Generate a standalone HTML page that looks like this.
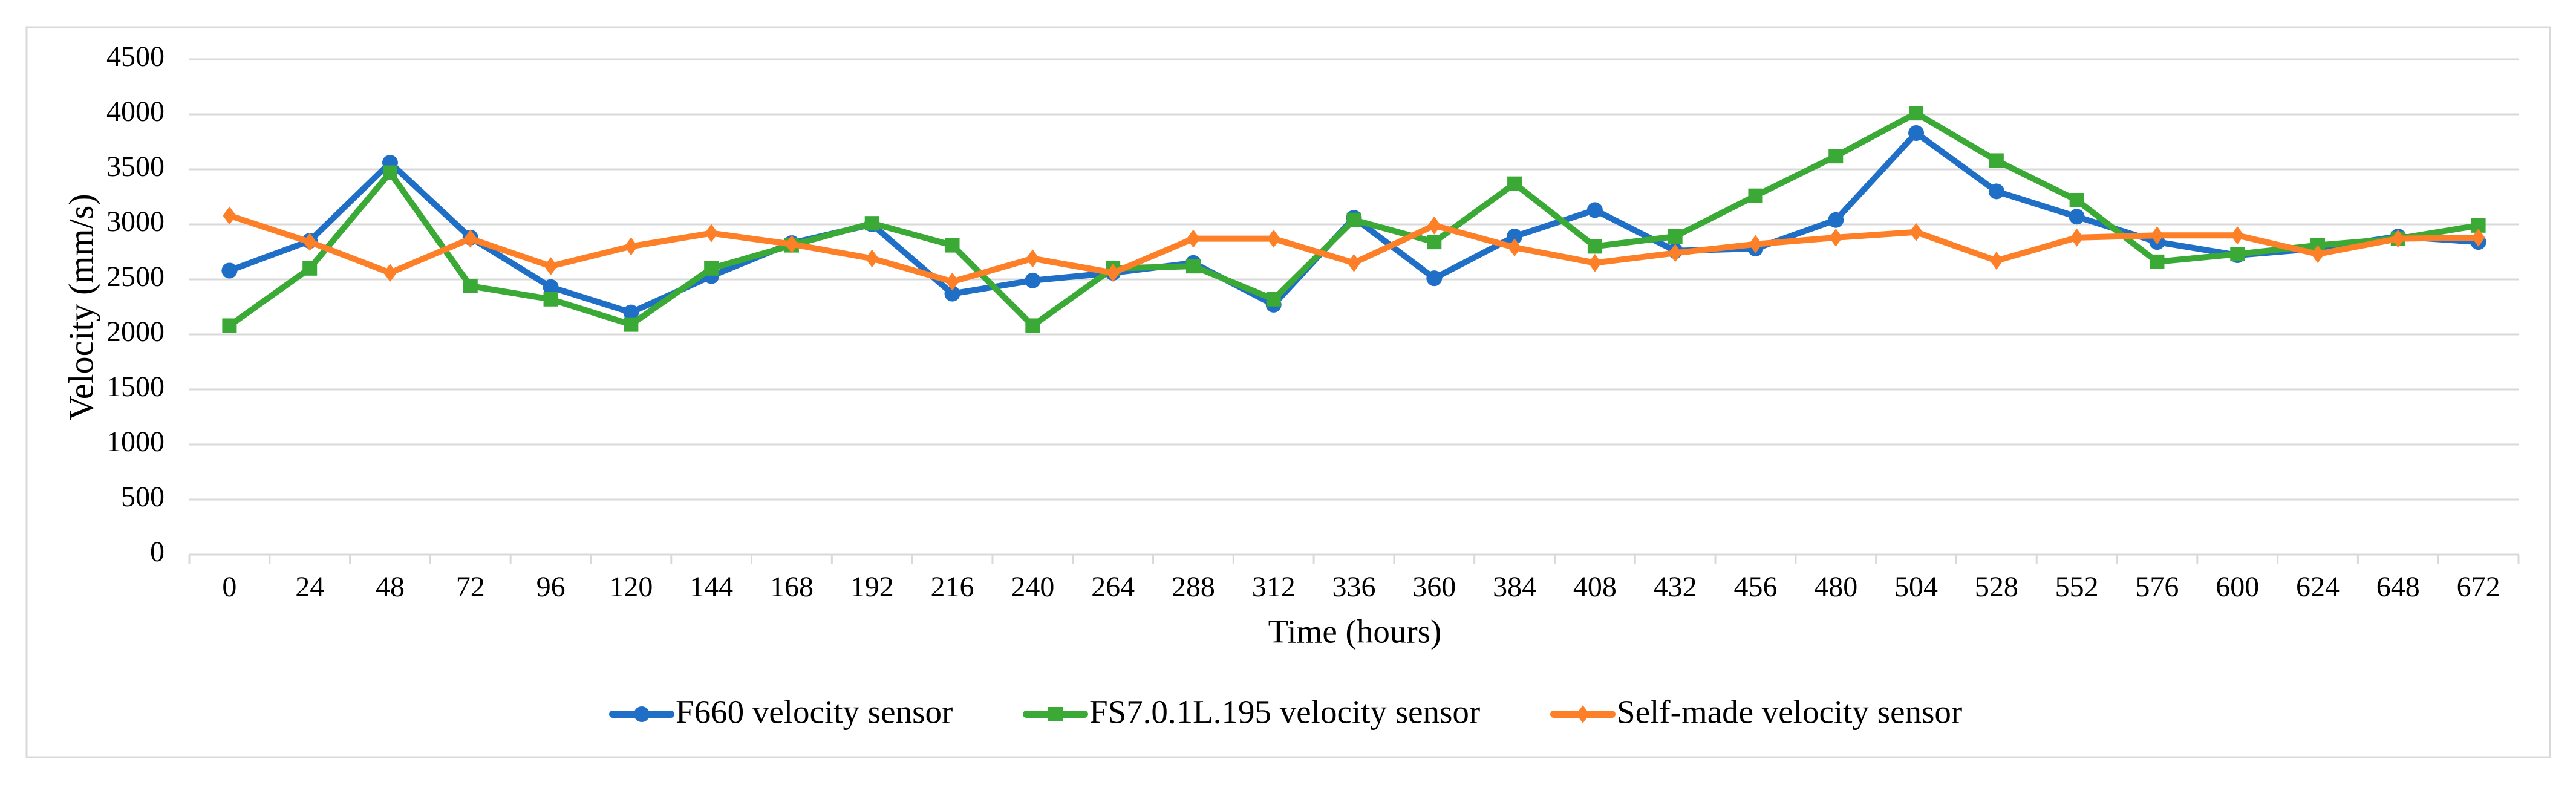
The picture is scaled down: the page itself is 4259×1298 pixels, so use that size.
<!DOCTYPE html>
<html><head><meta charset="utf-8">
<style>
html,body{margin:0;padding:0;background:#fff;}
svg{display:block;}
text{font-family:"Liberation Serif",serif;fill:#000;}
</style></head>
<body>
<svg id="chart" width="4259" height="1298" viewBox="0 0 4259 1298" xmlns="http://www.w3.org/2000/svg">
<rect x="44" y="45" width="4172" height="1207" fill="#fff" stroke="#d9d9d9" stroke-width="3"/>
<g id="grid"></g>
<g id="xaxis"></g>
<g id="yaxis"></g>
<g id="series"></g>
<text x="140" y="508" font-size="58" text-anchor="middle" dominant-baseline="middle" transform="rotate(-90 140 508)">Velocity (mm/s)</text>
<text x="2240" y="1050" font-size="55" text-anchor="middle" dominant-baseline="middle">Time (hours)</text>
<g id="legend"></g>
</svg>
<script>
const categories = [0,24,48,72,96,120,144,168,192,216,240,264,288,312,336,360,384,408,432,456,480,504,528,552,576,600,624,648,672];
const yTicks = [0,500,1000,1500,2000,2500,3000,3500,4000,4500];
const f660 = [2580,2850,3560,2880,2430,2200,2530,2830,3000,2370,2490,2560,2650,2270,3060,2510,2890,3130,2760,2780,3040,3830,3300,3070,2840,2720,2780,2890,2840];
const fs7 = [2080,2600,3470,2440,2320,2090,2600,2810,3010,2810,2080,2600,2620,2320,3040,2840,3370,2800,2890,3260,3620,4010,3580,3220,2660,2730,2810,2870,2990];
const selfMade = [3080,2840,2560,2870,2620,2800,2920,2820,2690,2480,2690,2560,2870,2870,2650,2990,2790,2650,2740,2820,2880,2930,2670,2880,2900,2900,2730,2870,2880];
const seriesNames = ["F660 velocity sensor","FS7.0.1L.195 velocity sensor","Self-made velocity sensor"];

const NS="http://www.w3.org/2000/svg";
const L=313,R=4164,T=98,B=917,YMAX=4500;
const band=(R-L)/categories.length;
const xs=i=>L+band*(i+0.5);
const ys=v=>B-(v/YMAX)*(B-T);
function mk(tag,attrs,parent){const e=document.createElementNS(NS,tag);for(const k in attrs)e.setAttribute(k,attrs[k]);parent.appendChild(e);return e;}

const grid=document.getElementById('grid'),yax=document.getElementById('yaxis'),xax=document.getElementById('xaxis');
yTicks.forEach(v=>{
  if(v>0){const g=mk('line',{x1:L,x2:R,y1:ys(v),y2:ys(v),stroke:'#d9d9d9','stroke-width':3},grid);
  
  }
  const t=mk('text',{x:272,y:ys(v),'font-size':48,'text-anchor':'end','dominant-baseline':'middle'},yax);
  t.textContent=v;
  
  
});
const ax=mk('line',{x1:L,x2:R,y1:B,y2:B,stroke:'#d9d9d9','stroke-width':3},xax);


for(let i=0;i<=categories.length;i++){
  const x=L+band*i;
  const tk=mk('line',{x1:x,x2:x,y1:B,y2:B+15,stroke:'#d9d9d9','stroke-width':3},xax);
  
  
}
categories.forEach((c,i)=>{
  const t=mk('text',{x:xs(i),y:975,'font-size':48,'text-anchor':'middle','dominant-baseline':'middle'},xax);
  t.textContent=c;
  
  
});

const colors=['#1f6fc6','#3aa935','#fd7f27'];
const shapes=['circle','square','diamond'];
const data=[f660,fs7,selfMade];
const sg=document.getElementById('series');
function marker(shape,x,y,color,parent){
  let e;
  if(shape==='circle')e=mk('circle',{cx:x,cy:y,r:13,fill:color},parent);
  else if(shape==='square')e=mk('rect',{x:x-12,y:y-12,width:24,height:24,fill:color},parent);
  else e=mk('polygon',{points:`${x},${y-15} ${x+11},${y} ${x},${y+15} ${x-11},${y}`,fill:color},parent);
  return e;
}
data.forEach((vals,s)=>{
  const g=mk('g',{},sg);
  
  
  const pl=mk('polyline',{points:vals.map((v,i)=>xs(i)+','+ys(v)).join(' '),fill:'none',stroke:colors[s],'stroke-width':10,'stroke-linejoin':'round','stroke-linecap':'round'},g);
  
  
  vals.forEach((v,i)=>{
    const m=marker(shapes[s],xs(i),ys(v),colors[s],g);
    
    
  });
});

const lg=document.getElementById('legend');
const legX=[1013,1697,2569];
seriesNames.forEach((n,s)=>{
  const g=mk('g',{},lg);
  
  
  mk('line',{x1:legX[s],x2:legX[s]+96,y1:1181,y2:1181,stroke:colors[s],'stroke-width':12,'stroke-linecap':'round'},g);
  marker(shapes[s],legX[s]+48,1181,colors[s],g);
  const t=mk('text',{x:legX[s]+104,y:1183,'font-size':55,'dominant-baseline':'middle'},g);
  t.textContent=n;
});
</script>
</body></html>
